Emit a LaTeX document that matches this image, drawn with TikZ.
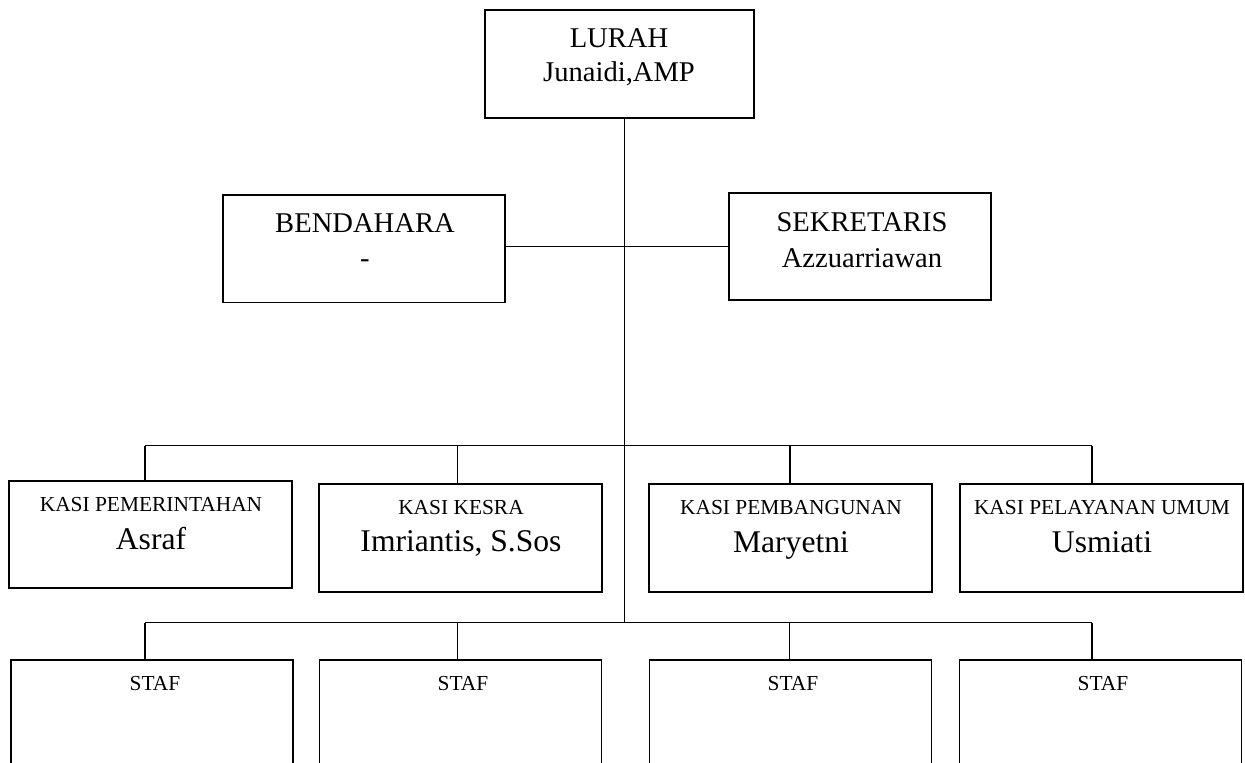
\documentclass[tikz,border=0pt]{standalone}
\usepackage{fontspec}
\setmainfont{Liberation Serif}
\begin{document}
\begin{tikzpicture}[x=0.5pt,y=-0.5pt,
  orgbox/.style={draw, line width=0.75pt, rectangle, inner sep=0pt},
  kbox/.style={orgbox, minimum width=141.5pt, minimum height=54pt},
  sbox/.style={orgbox, minimum width=141pt, minimum height=100pt},
  conn/.style={line width=0.75pt},
  txtbig/.style={font=\fontsize{14.3pt}{17pt}\selectfont, anchor=base, inner sep=0pt},
  txtname/.style={font=\fontsize{15.8pt}{19pt}\selectfont, anchor=base, inner sep=0pt},
  txtsmall/.style={font=\fontsize{10.7pt}{13pt}\selectfont, anchor=base, inner sep=0pt}]
\useasboundingbox (0,0) rectangle (1245,763);
\clip (0,0) rectangle (1245,763);

% boxes
\node[orgbox, minimum width=134.5pt, minimum height=54pt] (lurah) at (619.5,64) {};
\node[orgbox, minimum width=141pt, minimum height=53.75pt] (bend) at (364,248.75) {};
\node[orgbox, minimum width=131pt, minimum height=53.5pt] (sek) at (860,246.5) {};

\node[kbox, minimum height=53.5pt] (k1) at (150.5,534.5) {};
\node[kbox] (k2) at (460.5,538) {};
\node[kbox] (k3) at (790.5,538) {};
\node[kbox] (k4) at (1101.5,538) {};

\node[sbox] (s1) at (152,760) {};
\node[sbox] (s2) at (460.5,760) {};
\node[sbox] (s3) at (790.5,760) {};
\node[sbox] (s4) at (1100.5,760) {};

% texts
\node[txtbig] (lurahT) at (619,48) {LURAH};
\node[txtbig] (lurahN) at (619,82) {Junaidi,AMP};
\node[txtbig] (bendT) at (365,232.3) {BENDAHARA};
\node[txtbig] (bendN) at (365,268) {-};
\node[txtbig] (sekT) at (862,231.7) {SEKRETARIS};
\node[txtbig] (sekN) at (862,268) {Azzuarriawan};

\node[txtsmall] (k1T) at (151,511) {KASI PEMERINTAHAN};
\node[txtname] (k1N) at (151,549) {Asraf};
\node[txtsmall] (k2T) at (461,515) {KASI KESRA};
\node[txtname] (k2N) at (461,551.7) {Imriantis, S.Sos};
\node[txtsmall] (k3T) at (791,515) {KASI PEMBANGUNAN};
\node[txtname] (k3N) at (791,552) {Maryetni};
\node[txtsmall] (k4T) at (1102,514.3) {KASI PELAYANAN UMUM};
\node[txtname] (k4N) at (1102,552) {Usmiati};

\node[txtsmall] (s1T) at (155,690.7) {STAF};
\node[txtsmall] (s2T) at (463,690.7) {STAF};
\node[txtsmall] (s3T) at (793,690.7) {STAF};
\node[txtsmall] (s4T) at (1103,690.7) {STAF};

% connector coordinates
\coordinate (j1) at (624.5,246.7);
\coordinate (j2) at (624.5,622.7);
\coordinate (a1) at (145,445.7);
\coordinate (a2) at (457.3,445.7);
\coordinate (a3) at (790,445.7);
\coordinate (a4) at (1092,445.7);
\coordinate (b1) at (145,622.7);
\coordinate (b2) at (457.3,622.7);
\coordinate (b3) at (789.3,622.7);
\coordinate (b4) at (1092,622.7);

% connectors
\draw[conn] (lurah.south -| j2) -- (j2);
\draw[conn] (bend.east |- j1) -- (sek.west |- j1);
\draw[conn] (a1) -- (a4);
\draw[conn] (a1) -- (a1 |- k1.north);
\draw[conn] (a2) -- (a2 |- k2.north);
\draw[conn] (a3) -- (a3 |- k3.north);
\draw[conn] (a4) -- (a4 |- k4.north);
\draw[conn] (b1) -- (b4);
\draw[conn] (b1) -- (b1 |- s1.north);
\draw[conn] (b2) -- (b2 |- s2.north);
\draw[conn] (b3) -- (b3 |- s3.north);
\draw[conn] (b4) -- (b4 |- s4.north);
\end{tikzpicture}
\end{document}
